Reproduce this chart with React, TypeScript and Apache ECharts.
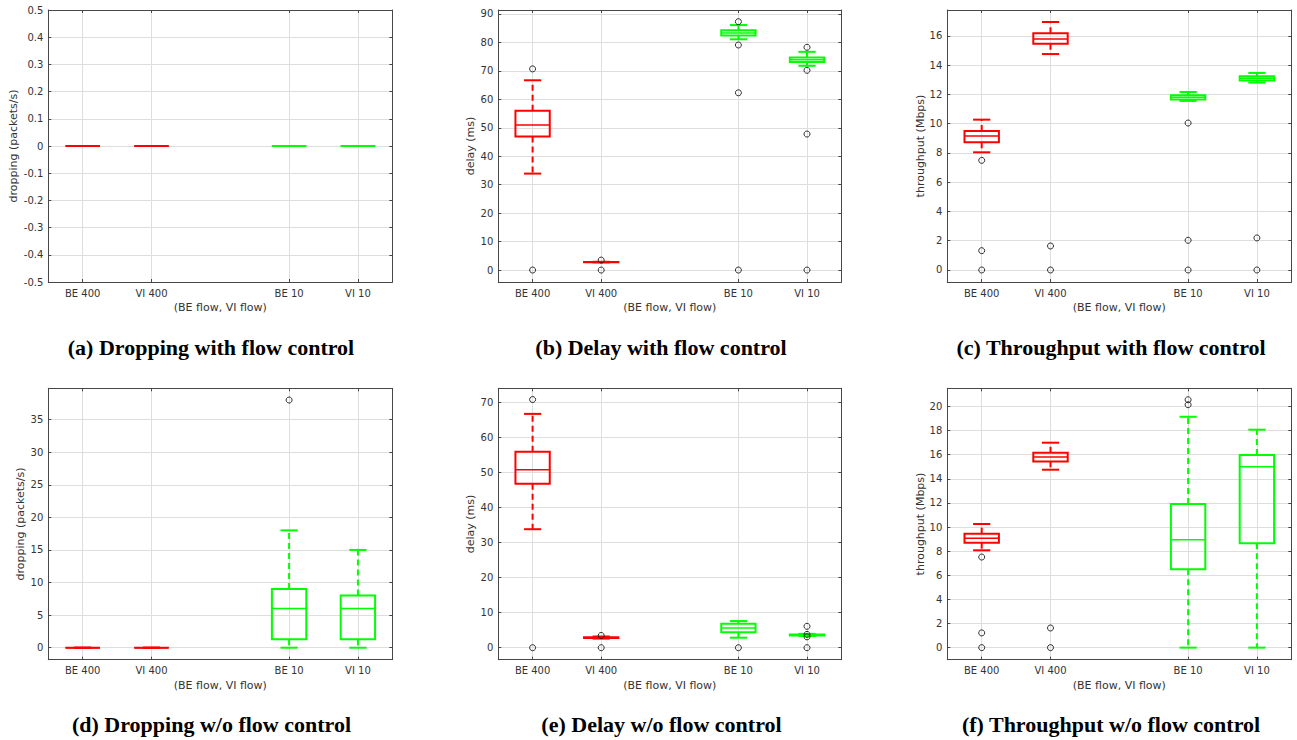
import React, { useEffect, useRef } from 'react';
import * as echarts from 'echarts';

// ---------------- data ----------------
const CATEGORIES = ['BE 400', 'VI 400', 'BE 10', 'VI 10'];
const X_NAME = '(BE flow, VI flow)';

// box = [lower whisker, Q1, median, Q3, upper whisker]
const DROP_FC_BOXES = [
  [0, 0, 0, 0, 0],
  [0, 0, 0, 0, 0],
  [0, 0, 0, 0, 0],
  [0, 0, 0, 0, 0],
];
const DROP_FC_OUTLIERS = [[], [], [], []];

const DELAY_FC_BOXES = [
  [33.9, 46.9, 51.0, 56.0, 66.7],
  [2.7, 2.75, 2.8, 2.85, 2.9],
  [81.1, 82.4, 83.3, 84.3, 86.1],
  [71.8, 73.1, 73.9, 74.7, 76.7],
];
const DELAY_FC_OUTLIERS = [
  [70.7, 0],
  [3.5, 0],
  [87.3, 79.1, 62.3, 0],
  [78.3, 70.2, 47.8, 0],
];

const THR_FC_BOXES = [
  [8.04, 8.72, 9.15, 9.49, 10.27],
  [14.75, 15.46, 15.78, 16.17, 16.94],
  [11.55, 11.65, 11.8, 11.93, 12.16],
  [12.8, 12.95, 13.09, 13.23, 13.46],
];
const THR_FC_OUTLIERS = [
  [7.49, 1.32, 0],
  [1.64, 0],
  [10.04, 2.03, 0],
  [2.19, 0],
];

const DROP_NOFC_BOXES = [
  [0, 0, 0, 0, 0],
  [0, 0, 0, 0, 0],
  [0, 1.28, 6.0, 9.0, 18.0],
  [0, 1.28, 6.0, 8.0, 15.0],
];
const DROP_NOFC_OUTLIERS = [[], [], [38.0], []];

const DELAY_NOFC_BOXES = [
  [33.8, 46.8, 50.8, 55.9, 66.7],
  [2.6, 2.75, 2.85, 3.0, 3.2],
  [2.86, 4.4, 5.6, 6.8, 7.6],
  [3.35, 3.5, 3.65, 3.8, 3.95],
];
const DELAY_NOFC_OUTLIERS = [
  [70.8, 0],
  [3.5, 0],
  [0],
  [6.1, 3.8, 3.1, 0],
];

const THR_NOFC_BOXES = [
  [8.07, 8.7, 9.06, 9.45, 10.25],
  [14.75, 15.44, 15.8, 16.16, 16.99],
  [0, 6.49, 8.95, 11.9, 19.14],
  [0, 8.65, 15.0, 15.97, 18.07],
];
const THR_NOFC_OUTLIERS = [
  [7.51, 1.22, 0],
  [1.63, 0],
  [20.55, 20.14],
  [],
];

const CAPTIONS = [
  '(a) Dropping with flow control',
  '(b) Delay with flow control',
  '(c) Throughput with flow control',
  '(d) Dropping w/o flow control',
  '(e) Delay w/o flow control',
  '(f) Throughput w/o flow control',
];
const Y_NAMES = [
  'dropping (packets/s)',
  'delay (ms)',
  'throughput (Mbps)',
  'dropping (packets/s)',
  'delay (ms)',
  'throughput (Mbps)',
];

// ---------------- layout / style ----------------
const RED = '#ff0000';
const GREEN = '#00ff00';
const FLOW_COLORS = [RED, RED, GREEN, GREEN];
const AXIS_COLOR = '#474747';
const LABEL_COLOR = '#333333';
const GRID_COLOR = '#dedede';
const SANS = 'DejaVu Sans';

const PANELS = [
  { boxes: DROP_FC_BOXES, outliers: DROP_FC_OUTLIERS, left: 48.3, top: 10, width: 344, height: 272, min: -0.5, max: 0.5, step: 0.1, nameGap: 29, showEnds: true, cx: 211, cy: 347 },
  { boxes: DELAY_FC_BOXES, outliers: DELAY_FC_OUTLIERS, left: 498.3, top: 10, width: 343, height: 272, min: -4.2, max: 91.4, step: 10, nameGap: 22, showEnds: false, cx: 661, cy: 347 },
  { boxes: THR_FC_BOXES, outliers: THR_FC_OUTLIERS, left: 947.3, top: 10, width: 344, height: 272, min: -0.82, max: 17.76, step: 2, nameGap: 21, showEnds: false, cx: 1111, cy: 347 },
  { boxes: DROP_NOFC_BOXES, outliers: DROP_NOFC_OUTLIERS, left: 48.3, top: 388.3, width: 344, height: 271.4, min: -1.84, max: 39.8, step: 5, nameGap: 22, showEnds: false, cx: 211.5, cy: 724 },
  { boxes: DELAY_NOFC_BOXES, outliers: DELAY_NOFC_OUTLIERS, left: 498.3, top: 388.3, width: 343, height: 271.4, min: -3.42, max: 74.0, step: 10, nameGap: 22, showEnds: false, cx: 661.5, cy: 724 },
  { boxes: THR_NOFC_BOXES, outliers: THR_NOFC_OUTLIERS, left: 947.3, top: 388.3, width: 344, height: 271.4, min: -1.0, max: 21.5, step: 2, nameGap: 21, showEnds: false, cx: 1111, cy: 724 },
];

// the categories sit on slots 0,1 and 3,4 (slot 2 is the gap between groups)
const AXIS_CATS = [CATEGORIES[0], CATEGORIES[1], '', CATEGORIES[2], CATEGORIES[3]];
const slotOf = (i: number) => (i < 2 ? i : i + 1);
const keepTick = (_idx: number, val: string) => val !== '';

function buildOption() {
  const grid: any[] = [];
  const xAxis: any[] = [];
  const yAxis: any[] = [];
  const series: any[] = [];
  const graphic: any[] = [];

  PANELS.forEach((p, i) => {
    grid.push({ left: p.left, top: p.top, width: p.width, height: p.height, show: false });

    const axisLine = { show: true, onZero: false, lineStyle: { color: AXIS_COLOR, width: 1 } };
    const tick = { show: true, inside: true, length: 3, lineStyle: { color: AXIS_COLOR, width: 1 } };

    xAxis.push({
      gridIndex: i,
      type: 'category',
      data: AXIS_CATS,
      boundaryGap: true,
      position: 'bottom',
      name: X_NAME,
      nameLocation: 'middle',
      nameGap: 20,
      nameTextStyle: { color: LABEL_COLOR, fontSize: 11, fontFamily: SANS },
      axisLine,
      axisTick: { ...tick, alignWithLabel: true, interval: keepTick },
      axisLabel: { interval: 0, margin: 6, color: LABEL_COLOR, fontSize: 10, fontFamily: SANS },
      splitLine: { show: true, alignWithLabel: true, interval: keepTick, lineStyle: { color: GRID_COLOR, width: 1 } },
    });
    xAxis.push({
      gridIndex: i,
      type: 'category',
      data: AXIS_CATS,
      boundaryGap: true,
      position: 'top',
      axisLine,
      axisTick: { ...tick, alignWithLabel: true, interval: keepTick },
      axisLabel: { show: false },
      splitLine: { show: false },
    });

    const yBase = {
      gridIndex: i,
      type: 'value',
      min: p.min,
      max: p.max,
      minInterval: p.step,
      maxInterval: p.step,
      splitNumber: 10,
      axisLine,
      axisTick: tick,
    };
    yAxis.push({
      ...yBase,
      position: 'left',
      name: Y_NAMES[i],
      nameLocation: 'middle',
      nameGap: p.nameGap,
      nameTextStyle: { color: LABEL_COLOR, fontSize: 11, fontFamily: SANS },
      axisLabel: {
        margin: 5,
        color: LABEL_COLOR,
        fontSize: 10,
        fontFamily: SANS,
        showMinLabel: p.showEnds,
        showMaxLabel: p.showEnds,
      },
      splitLine: { show: true, lineStyle: { color: GRID_COLOR, width: 1 } },
    });
    yAxis.push({
      ...yBase,
      position: 'right',
      axisLabel: { show: false },
      splitLine: { show: false },
    });

    series.push({
      type: 'custom',
      xAxisIndex: 2 * i,
      yAxisIndex: 2 * i,
      z: 2,
      encode: { x: 0, y: [1, 2, 3, 4, 5] },
      data: p.boxes.map((b, k) => [slotOf(k), ...b]),
      renderItem: (params: any, api: any) => {
        const color = FLOW_COLORS[params.dataIndex];
        const slot = api.value(0);
        const band = api.size([1, 0])[0];
        const hw = band * 0.25;
        const cw = band * 0.125;
        const x = api.coord([slot, 0])[0];
        const y = (d: number) => api.coord([slot, api.value(d)])[1];
        const lo = y(1), q1 = y(2), med = y(3), q3 = y(4), hi = y(5);
        const dashed = { stroke: color, lineWidth: 2, lineDash: [6, 4], fill: null };
        const solid = { stroke: color, lineWidth: 2, fill: null };
        return {
          type: 'group',
          children: [
            { type: 'line', shape: { x1: x, y1: q3, x2: x, y2: hi }, style: dashed },
            { type: 'line', shape: { x1: x, y1: q1, x2: x, y2: lo }, style: dashed },
            { type: 'line', shape: { x1: x - cw, y1: hi, x2: x + cw, y2: hi }, style: solid },
            { type: 'line', shape: { x1: x - cw, y1: lo, x2: x + cw, y2: lo }, style: solid },
            {
              type: 'polygon',
              shape: { points: [[x - hw, q3], [x + hw, q3], [x + hw, q1], [x - hw, q1]] },
              style: { stroke: color, lineWidth: 2, fill: 'none' },
            },
            { type: 'line', shape: { x1: x - hw, y1: med, x2: x + hw, y2: med }, style: { stroke: color, lineWidth: 1.5 } },
          ],
        };
      },
    });

    const outData: number[][] = [];
    p.outliers.forEach((vals, k) => vals.forEach((v) => outData.push([slotOf(k), v])));
    series.push({
      type: 'scatter',
      xAxisIndex: 2 * i,
      yAxisIndex: 2 * i,
      z: 3,
      symbol: 'circle',
      symbolSize: 6,
      itemStyle: { color: 'rgba(0,0,0,0)', borderColor: '#000000', borderWidth: 1 },
      data: outData,
    });

    graphic.push({
      type: 'text',
      x: p.cx,
      y: p.cy,
      style: {
        text: CAPTIONS[i],
        font: 'bold 22px "Liberation Serif"',
        fill: '#000000',
        align: 'center',
        verticalAlign: 'middle',
        textAlign: 'center',
        textVerticalAlign: 'middle',
      },
    });
  });

  return {
    animation: false,
    backgroundColor: '#ffffff',
    grid,
    xAxis,
    yAxis,
    series,
    graphic,
  };
}

export default function App() {
  const ref = useRef<HTMLDivElement>(null);
  useEffect(() => {
    if (!ref.current) return;
    const chart = echarts.init(ref.current, undefined, { renderer: 'svg' });
    chart.setOption(buildOption() as any);
    return () => chart.dispose();
  }, []);
  return (
    <div
      ref={ref}
      style={{ position: 'absolute', left: 0, top: 0, width: 1297, height: 740, background: '#fff' }}
    />
  );
}
